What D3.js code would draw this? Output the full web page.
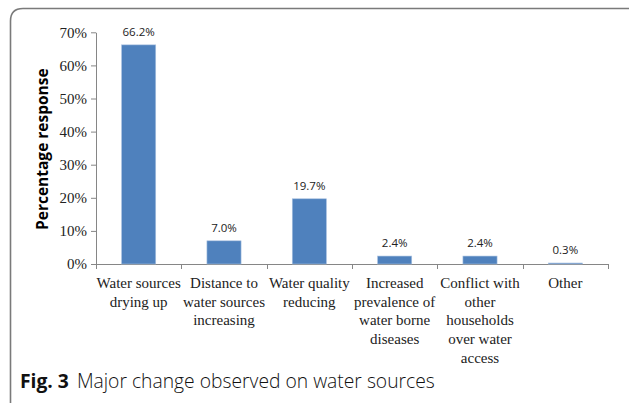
<!DOCTYPE html>
<html><head><meta charset="utf-8">
<script src="https://cdn.jsdelivr.net/npm/d3@7"></script>
<style>body{margin:0;background:#fff}svg{display:block}</style>
</head><body>
<svg id="c" width="629" height="403"></svg>
<script>
const categories = [
  ["Water sources", "drying up"],
  ["Distance to", "water sources", "increasing"],
  ["Water quality", "reducing"],
  ["Increased", "prevalence of", "water borne", "diseases"],
  ["Conflict with", "other", "households", "over water", "access"],
  ["Other"]
];
const values = [66.2, 7.0, 19.7, 2.4, 2.4, 0.3];
const valueLabels = ["66.2%", "7.0%", "19.7%", "2.4%", "2.4%", "0.3%"];
const yTicks = [0, 10, 20, 30, 40, 50, 60, 70];

const svg = d3.select("#c");
// frame
svg.append("path")
  .attr("d", "M10.5,403 L10.5,21 Q10.5,8.5 23,8.5 L629,8.5")
  .attr("fill", "none").attr("stroke", "#7a7a7a").attr("stroke-width", 1.6);

const x0 = 96, x1 = 608, yBot = 264, yTop = 32.3;
const idx = categories.map((d, i) => i);
const x = d3.scaleBand().domain(idx).range([x0, x1]).paddingInner(0.6).paddingOuter(0.3);
const y = d3.scaleLinear().domain([0, 70]).range([yBot, yTop]);

// y axis
const yAxis = d3.axisLeft(y).tickValues(yTicks).tickFormat(d => d + "%").tickSize(5).tickSizeOuter(0);
const gy = svg.append("g").attr("transform", `translate(${x0},0)`).call(yAxis);
gy.select(".domain").attr("stroke", "#868686");
gy.selectAll(".tick line").attr("stroke", "#868686");
gy.selectAll(".tick text").attr("font-family", "'Liberation Serif', serif").attr("font-size", 15)
  .attr("fill", "#222").attr("x", -9);

// x axis with boundary ticks
const step = x.step();
const gx = svg.append("g");
gx.append("line").attr("x1", x0).attr("x2", x1).attr("y1", yBot + 0.5).attr("y2", yBot + 0.5).attr("stroke", "#868686");
d3.range(categories.length + 1).forEach(i => {
  const tx = Math.round(x0 + i * step) + 0.5;
  gx.append("line").attr("x1", tx).attr("x2", tx).attr("y1", yBot).attr("y2", yBot + 5).attr("stroke", "#868686");
});

// bars
svg.append("g").selectAll("rect").data(values).join("rect")
  .attr("x", (d, i) => x(i)).attr("width", x.bandwidth())
  .attr("y", d => y(d)).attr("height", d => yBot - y(d))
  .attr("fill", "#4F81BD").attr("stroke", "#a9c1e0").attr("stroke-width", 0.6);

// value labels
svg.append("g").selectAll("text").data(values).join("text")
  .attr("x", (d, i) => x(i) + x.bandwidth() / 2).attr("y", d => y(d) - 9)
  .attr("text-anchor", "middle").attr("font-family", "'Open Sans', sans-serif").attr("font-size", 11.5)
  .attr("fill", "#222").text((d, i) => valueLabels[i]);

// category labels
const cl = svg.append("g").selectAll("text").data(categories).join("text")
  .attr("text-anchor", "middle").attr("font-family", "'Liberation Serif', serif").attr("font-size", 15)
  .attr("fill", "#222");
cl.each(function(lines, i) {
  const t = d3.select(this);
  lines.forEach((ln, j) => {
    t.append("tspan").attr("x", x(i) + x.bandwidth() / 2).attr("y", 288 + j * 18.7).text(ln);
  });
});

// y title
svg.append("text").attr("transform", `translate(48,${(yTop + yBot) / 2 + 1}) rotate(-90)`)
  .attr("text-anchor", "middle").attr("font-family", "'Open Sans', sans-serif").attr("font-weight", "bold")
  .attr("font-size", 15.5).attr("fill", "#000").text("Percentage response");

// caption
const cap = svg.append("text").attr("x", 20).attr("y", 388).attr("font-family", "'Open Sans', sans-serif")
  .attr("font-size", 19.3).attr("fill", "#111");
cap.append("tspan").attr("font-weight", "bold").text("Fig. 3");
cap.append("tspan").attr("dx", 8).attr("font-weight", 300).text("Major change observed on water sources");
</script>
</body></html>
